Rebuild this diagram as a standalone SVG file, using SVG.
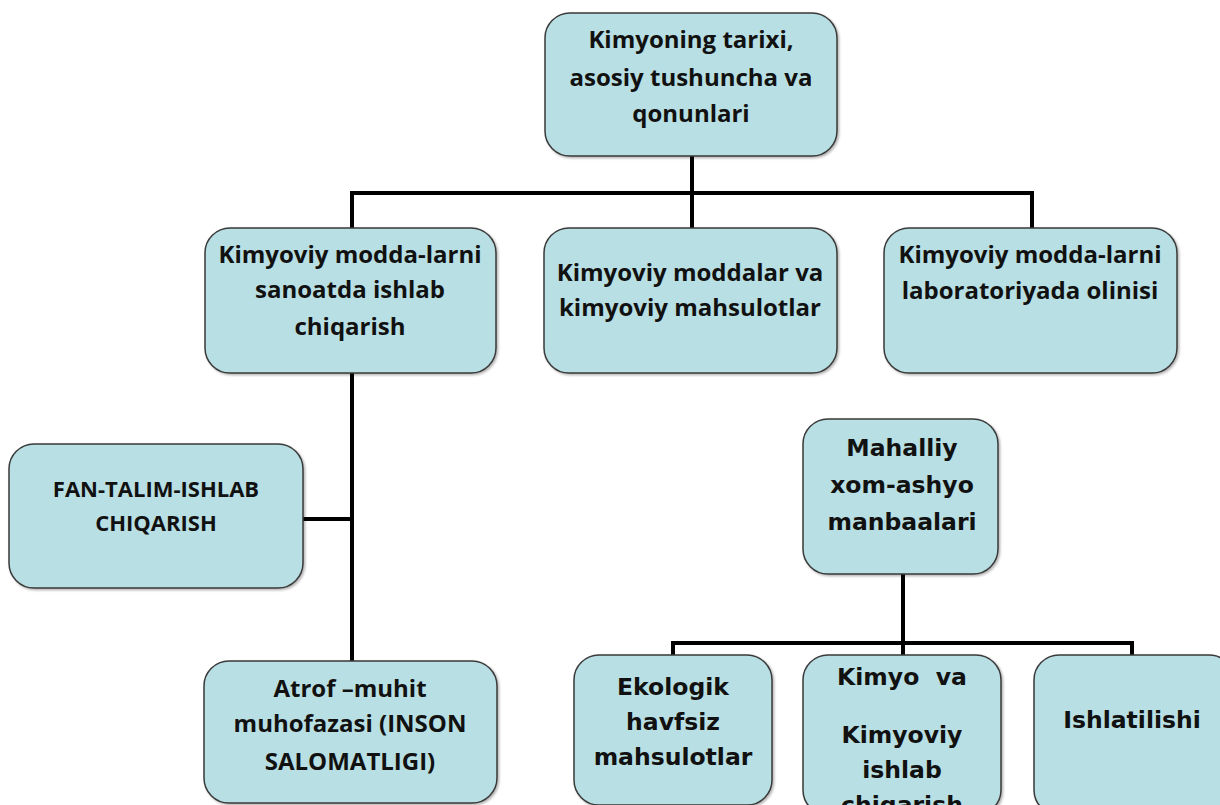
<svg xmlns="http://www.w3.org/2000/svg" width="1220" height="805" viewBox="0 0 1220 805">
<defs>
<filter id="sh" x="-5%" y="-5%" width="115%" height="115%">
<feDropShadow dx="1.5" dy="1.5" stdDeviation="1" flood-color="#000" flood-opacity="0.3"/>
</filter>
</defs>
<style>
.box{fill:#b8dfe3;stroke:#3a3a3a;stroke-width:1.5;filter:url(#sh)}
.t{font-family:"Open Sans",Lato,sans-serif;font-weight:bold;font-size:24px;fill:#111;text-anchor:middle}
.u{font-size:22px}
.v{font-family:"DejaVu Sans",Verdana,sans-serif;font-weight:bold;font-size:23.5px;fill:#111;text-anchor:middle}
.c{fill:none;stroke:#000;stroke-width:4}
</style>
<rect width="1220" height="805" fill="#fff"/>
<g id="connectors">
<path class="c" d="M692 156V193M350 193H1034M352 193V228M692 193V228M1032 193V228"/>
<path class="c" d="M352 373V661M303 519H352"/>
<path class="c" d="M903 574V643M671 643H1134M673 643V655M903 643V655M1132 643V655"/>
</g>
<g id="n-top">
<rect class="box" x="545" y="13" width="292" height="143" rx="25"/>
<text class="t" x="691" y="48">Kimyoning tarixi,</text>
<text class="t" x="691" y="86">asosiy tushuncha va</text>
<text class="t" x="691" y="122">qonunlari</text>
</g>
<g id="n-sanoat">
<rect class="box" x="205" y="228" width="291" height="145" rx="25"/>
<text class="t" x="350" y="263">Kimyoviy modda-larni</text>
<text class="t" x="350" y="298">sanoatda ishlab</text>
<text class="t" x="350" y="335">chiqarish</text>
</g>
<g id="n-moddalar">
<rect class="box" x="544" y="228" width="293" height="145" rx="25"/>
<text class="t" x="690" y="281">Kimyoviy moddalar va</text>
<text class="t" x="690" y="316">kimyoviy mahsulotlar</text>
</g>
<g id="n-lab">
<rect class="box" x="884" y="228" width="293" height="145" rx="25"/>
<text class="t" x="1030" y="263">Kimyoviy modda-larni</text>
<text class="t" x="1030" y="299">laboratoriyada olinisi</text>
</g>
<g id="n-fan">
<rect class="box" x="9" y="444" width="294" height="144" rx="25"/>
<text class="t u" x="156" y="497">FAN-TALIM-ISHLAB</text>
<text class="t u" x="156" y="531">CHIQARISH</text>
</g>
<g id="n-atrof">
<rect class="box" x="204" y="661" width="293" height="142" rx="25"/>
<text class="t" x="350" y="697">Atrof –muhit</text>
<text class="t" x="350" y="732">muhofazasi (INSON</text>
<text class="t" x="350" y="770">SALOMATLIGI)</text>
</g>
<g id="n-mahalliy">
<rect class="box" x="803" y="419" width="195" height="155" rx="25"/>
<text class="v" x="902" y="456">Mahalliy</text>
<text class="v" x="902" y="493">xom-ashyo</text>
<text class="v" x="902" y="530">manbaalari</text>
</g>
<g id="n-ekologik">
<rect class="box" x="574" y="655" width="198" height="150" rx="25"/>
<text class="v" x="673" y="695">Ekologik</text>
<text class="v" x="673" y="730">havfsiz</text>
<text class="v" x="673" y="765">mahsulotlar</text>
</g>
<g id="n-kimyo">
<rect class="box" x="803" y="655" width="198" height="160" rx="25"/>
<text class="v" x="902" y="685" xml:space="preserve">Kimyo  va</text>
<text class="v" x="902" y="743">Kimyoviy</text>
<text class="v" x="902" y="778">ishlab</text>
<text class="v" x="902" y="813">chiqarish</text>
</g>
<g id="n-ishlatilishi">
<rect class="box" x="1034" y="655" width="200" height="160" rx="25"/>
<text class="v" x="1132" y="728">Ishlatilishi</text>
</g>
</svg>
